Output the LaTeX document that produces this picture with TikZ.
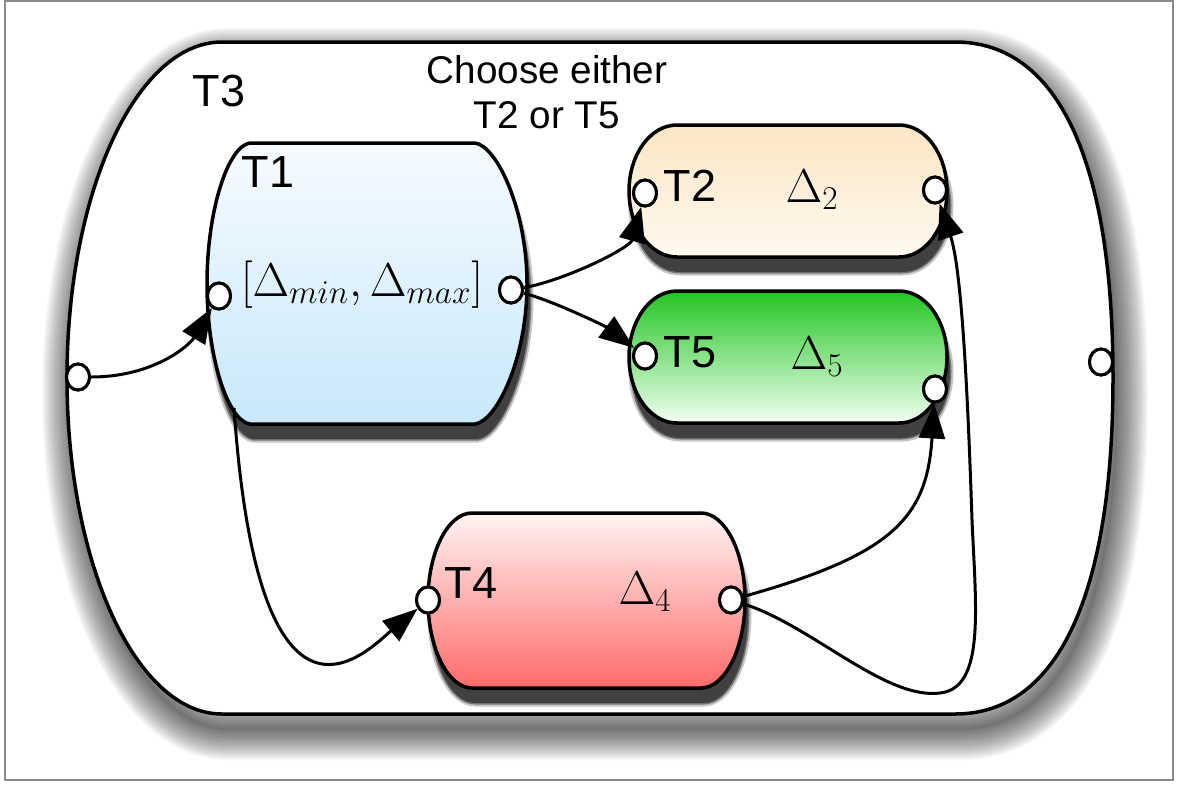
\RequirePackage{fix-cm}
\documentclass[tikz,border=0pt]{standalone}
\usepackage[no-math]{fontspec}
\newfontfamily\helv{Liberation Sans}
\usetikzlibrary{arrows.meta,
  positioning,
  shapes.geometric
}
\definecolor{shadowgray}{HTML}{404040}
\definecolor{framegray}{HTML}{8A8A8A}
\definecolor{blueTop}{HTML}{F5FBFF}
\definecolor{blueBot}{HTML}{C9E8FA}
\definecolor{orangeTop}{HTML}{FCE6C4}
\definecolor{orangeBot}{HTML}{FFF9F0}
\definecolor{greenTop}{HTML}{22C522}
\definecolor{greenBot}{HTML}{F2FFF2}
\definecolor{redTop}{HTML}{FFF4F4}
\definecolor{redBot}{HTML}{FF6A6A}

\tikzstyle{port} = [draw, fill=white, ellipse, line width=0.6mm,
  minimum width=4.6mm, minimum height=5.2mm, inner sep=0pt]
\tikzstyle{conn} = [line width=0.6mm, -{Triangle[length=7mm, width=5.2mm]}]
\tikzstyle{boxline} = [line width=0.7mm, line join=round]
\tikzstyle{tname} = [font=\helv\fontsize{25.6}{30}\selectfont, inner sep=0pt]
\tikzstyle{tmath} = [font=\fontsize{27}{30}\selectfont, inner sep=0pt]

% outlines, in pixels of the 1179x784 page
\newcommand{\outerpath}{(222,42) -- (955,42) .. controls (1060,42) and (1113,165) .. (1113,378)
  .. controls (1113,590) and (1060,714) .. (955,714) -- (222,714)
  .. controls (136,714) and (67,563) .. (67,378) .. controls (67,193) and (136,42) .. (222,42) -- cycle}
\newcommand{\taskone}{(250,143) -- (475,143) .. controls (497,146) and (527,210) .. (527,284)
  .. controls (527,358) and (497,421) .. (475,424) -- (250,424)
  .. controls (228,421) and (207,358) .. (207,284) .. controls (207,210) and (228,146) .. (250,143) -- cycle}
\newcommand{\tasktwo}{(677,125) -- (899,125) .. controls (926,125) and (947,155) .. (947,191)
  .. controls (947,227) and (926,257) .. (899,257) -- (677,257)
  .. controls (650,257) and (629,227) .. (629,191) .. controls (629,155) and (650,125) .. (677,125) -- cycle}
\newcommand{\taskfive}{(677,291) -- (899,291) .. controls (926,291) and (947,321) .. (947,357)
  .. controls (947,393) and (926,423) .. (899,423) -- (677,423)
  .. controls (650,423) and (629,393) .. (629,357) .. controls (629,321) and (650,291) .. (677,291) -- cycle}
\newcommand{\taskfour}{(472,513) -- (701,513) .. controls (725,513) and (745,552) .. (745,600)
  .. controls (745,648) and (725,688) .. (701,688) -- (472,688)
  .. controls (448,688) and (428,648) .. (428,600) .. controls (428,552) and (448,513) .. (472,513) -- cycle}

\begin{document}
\begin{tikzpicture}[x=0.2mm, y=-0.2mm]
  \useasboundingbox (0,0) rectangle (1179,784);
  \draw[framegray, line width=0.25mm] (5,1) rectangle (1173,780);

  % T3, soft shadow
  \fill[black, opacity=0.08, shift={(5,16)}] \outerpath;
  \foreach \w in {60,57,...,3} {
    \draw[black, opacity=0.035, line width=\w*0.2mm, line join=round, shift={(5,16)}] \outerpath;
  }
  \draw[boxline, fill=white] \outerpath;

  % shadows of the tasks
  \foreach \s in {\taskone,\tasktwo,\taskfive,\taskfour} {
    \draw[shadowgray, opacity=0.3, line width=1.4mm, shift={(3,15)}] \s;
    \draw[shadowgray, opacity=0.6, line width=0.6mm, shift={(3,15)}] \s;
    \fill[shadowgray, shift={(3,15)}] \s;
  }

  % tasks
  \draw[boxline, top color=blueTop, bottom color=blueBot] \taskone;
  \draw[boxline, top color=orangeTop, bottom color=orangeBot] \tasktwo;
  \draw[boxline, top color=greenTop, bottom color=greenBot] \taskfive;
  \draw[boxline, top color=redTop, bottom color=redBot] \taskfour;

  % ports
  \node[port] (p3in) at (78,377) {};
  \node[port] (p3out) at (1101,362) {};
  \node[port] (p1in) at (219,296) {};
  \node[port] (p1out) at (511,290) {};
  \node[port] (p2in) at (645,193) {};
  \node[port] (p2out) at (935,190) {};
  \node[port] (p5in) at (645,356) {};
  \node[port] (p5out) at (935,389) {};
  \node[port] (p4in) at (428,600) {};
  \node[port] (p4out) at (731,600) {};
  \coordinate (t1tail) at (234,408);

  % flows
  \draw[conn] (p3in) .. controls +(75,0) and +(-30,50) .. (p1in);
  \draw[conn] (p1out) .. controls +(55,-10) and +(-15,55) .. (p2in);
  \draw[conn] (p1out) .. controls +(40,10) and +(-40,-30) .. (p5in);
  \draw[conn] (t1tail) .. controls +(25,360) and +(-60,50) .. (p4in);
  \draw[conn] (p4out) .. controls +(160,-45) and +(-8,130) .. (p5out);
  \draw[conn] (p4out) .. controls +(80,25) and (885,700) .. (940,693)
    .. controls (985,688) and (976,610) .. (972,520)
    .. controls (968,400) and (962,270) .. (p2out);

  % redraw ports over the flows
  \foreach \p in {p3in,p3out,p1in,p1out,p2in,p2out,p5in,p5out,p4in,p4out} {
    \draw[line width=0.6mm, fill=white] (\p.center) ellipse (2.3mm and 2.6mm);
  }

  % names
  \node[tname] (n3) at (219,91) {T3};
  \node[tname] (n1) at (268,172) {T1};
  \node[tname] (n2) at (690,186) {T2};
  \node[tname] (n5) at (690,352) {T5};
  \node[tname] (n4) at (471,583) {T4};
  \node[font=\helv\fontsize{22}{25.6}\selectfont, align=center, inner sep=0pt] (choice)
    at (547,92) {Choose either\\T2 or T5};

  % intervals
  \node[tmath] (d1) at (362,285) {$[\Delta_{min},\Delta_{max}]$};
  \node[tmath] (d2) at (812,190) {$\Delta_2$};
  \node[tmath] (d5) at (817,357) {$\Delta_5$};
  \node[tmath] (d4) at (645,592) {$\Delta_4$};
\end{tikzpicture}
\end{document}
